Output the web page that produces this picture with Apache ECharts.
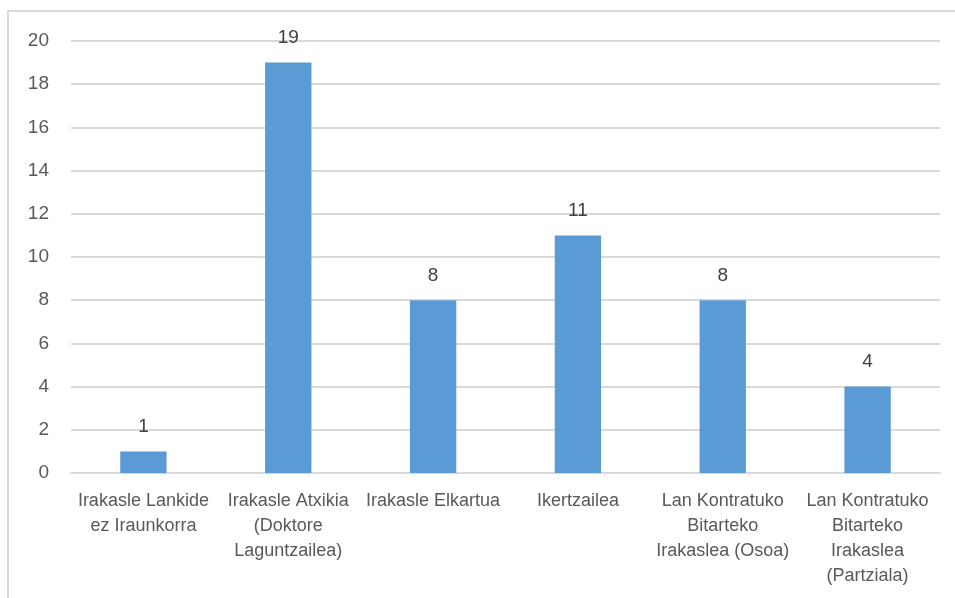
<!DOCTYPE html>
<html><head><meta charset="utf-8">
<script src="https://cdn.jsdelivr.net/npm/echarts@6/dist/echarts.min.js"></script>
<style>html,body{margin:0;padding:0;background:#fff}#c{width:955px;height:598px}</style>
</head><body><div id="c"></div>
<script>
const categories = [
  "Irakasle Lankide\nez Iraunkorra",
  "Irakasle Atxikia\n(Doktore\nLaguntzailea)",
  "Irakasle Elkartua",
  "Ikertzailea",
  "Lan Kontratuko\nBitarteko\nIrakaslea (Osoa)",
  "Lan Kontratuko\nBitarteko\nIrakaslea\n(Partziala)"
];
const values = [1, 19, 8, 11, 8, 4];
const yTicks = {min: 0, max: 20, interval: 2};

const chart = echarts.init(document.getElementById('c'), null, {renderer: 'canvas'});
const font = "'Liberation Sans', sans-serif";
chart.setOption({
  animation: false,
  backgroundColor: '#fff',
  graphic: [{
    type: 'rect', shape: {x: 8, y: 11, width: 960, height: 600},
    style: {fill: 'none', stroke: '#d9d9d9', lineWidth: 2}, silent: true
  }],
  grid: {left: 71, right: 15, top: 41, bottom: 125, containLabel: false},
  xAxis: {
    type: 'category', data: categories,
    axisLine: {show: true, lineStyle: {color: '#d9d9d9', width: 2}},
    axisTick: {show: false},
    axisLabel: {interval: 0, color: '#595959', fontFamily: font, fontSize: 18, lineHeight: 25, margin: 16}
  },
  yAxis: {
    type: 'value', min: yTicks.min, max: yTicks.max, interval: yTicks.interval,
    axisLine: {show: false}, axisTick: {show: false},
    splitLine: {lineStyle: {color: '#d9d9d9', width: 2}},
    axisLabel: {color: '#595959', fontFamily: font, fontSize: 19, margin: 22}
  },
  series: [{
    type: 'bar', data: values, barWidth: '32%',
    itemStyle: {color: '#5b9bd5'},
    label: {show: true, position: 'top', color: '#404040', fontFamily: font, fontSize: 19, distance: 15}
  }]
});
</script></body></html>
